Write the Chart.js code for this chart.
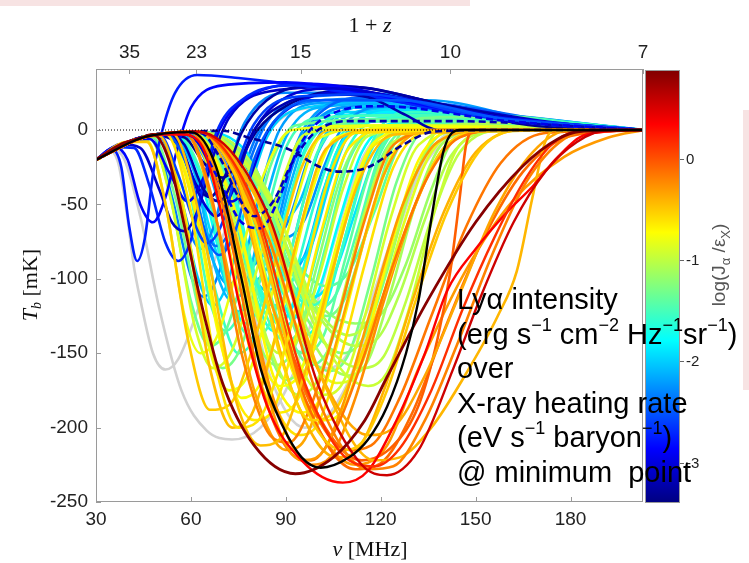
<!DOCTYPE html>
<html>
<head>
<meta charset="utf-8">
<script src="https://cdn.jsdelivr.net/npm/chart.js"></script>
<style>
  html, body { margin: 0; padding: 0; background: #fff; }
  #wrap { position: relative; width: 749px; height: 563px; overflow: hidden; background: #fff; }
  #c { position: absolute; left: 0; top: 0; }
  .pink { position: absolute; background: #f7e3e3; }
  #note {
    position: absolute; left: 457px; top: 282px;
    font-family: "Liberation Sans", Arial, sans-serif; font-size: 29px; line-height: 34.5px;
    color: #000; white-space: nowrap;
  }
  #note sup { font-size: 18px; line-height: 0; position: relative; top: -2px; }
</style>
</head>
<body>
<div id="wrap">
  <div class="pink" style="left:0;top:0;width:470px;height:6px"></div>
  <div class="pink" style="left:743px;top:110px;width:6px;height:280px"></div>
  <canvas id="c" width="749" height="563"></canvas>
  <div id="note">
    Lyα intensity<br>
    (erg s<sup>−1</sup> cm<sup>−2</sup> Hz<sup>−1</sup>sr<sup>−1</sup>)<br>
    over<br>
    X-ray heating rate<br>
    (eV s<sup>−1</sup> baryon<sup>−1</sup>)<br>
    @ minimum&nbsp; point
  </div>
</div>
<script>
const NU21 = 1420.4;
const xTicks = [30, 60, 90, 120, 150, 180];
const yTicks = [0, -50, -100, -150, -200, -250];
const zTicks = [35, 23, 15, 10, 7];
const cbTicks = [0, -1, -2, -3];
const cbMin = -3.4, cbMax = 0.88;

// light grey runs (no colour value)
const grayCurves = [
  [[30,-20],[34,-14],[37,-22],[40,-60],[42,-92],[44,-114],[48,-150],[52,-161],[56,-154],[62,-122],[70,-72],[78,-28],[85,0],[95,14],[120,17],[160,6],[203,0]],
  [[30,-20],[35,-12.8],[39,-20],[44,-58],[50,-120],[57,-175],[65,-202],[73,-208],[82,-200],[90,-175],[98,-130],[106,-70],[114,-20],[122,0],[150,4],[203,0]],
  [[30,-20],[45,-5],[60,-1.4],[72,-50],[85,-165],[96,-200],[102,-195],[110,-168],[118,-120],[126,-65],[134,-20],[145,0],[203,0]],
  [[30,-20],[45,-5],[62,-1.2],[76,-30],[90,-120],[102,-160],[108,-155],[116,-120],[124,-70],[132,-30],[142,-5],[160,0],[203,0]]
];

// each run: lv = log(J_alpha / eps_X) at the minimum
const blueCurves = [
  {lv:-3.35, pts:[[30,-20],[40,-8],[50,-3],[58,-5],[64,-22],[70,-32],[75,-22],[81,0],[90,16],[106,26],[125,22],[145,13],[168,3],[203,0]]},
  {lv:-3.1,  pts:[[30,-20],[38,-9.5],[44,-12],[50,-40],[54,-62],[58,-68],[62,-55],[67,-18],[72,8],[85,26],[110,29],[140,17],[175,5],[203,0]]},
  {lv:-3.0,  pts:[[30,-20],[42,-6.5],[55,-2],[62,-8],[68,-32],[73,-48],[78,-35],[84,-2],[92,16],[110,26],[140,15],[170,5],[203,0]]},
  {lv:-3.25, pts:[[30,-20],[40,-8],[48,-3.8],[56,-10],[62,-38],[66,-45],[71,-30],[76,-2],[84,20],[100,30],[116,28],[138,18],[170,5],[203,0]]},
  {lv:-2.9,  pts:[[30,-20],[40,-8],[47,-6],[53,-28],[59,-48],[64,-32],[69,0],[78,22],[98,31],[125,22],[160,8],[203,0]]},
  {lv:-2.75, pts:[[30,-20],[35,-13],[38,-25],[40.5,-65],[43,-88],[45.5,-72],[48,-30],[51,0],[55,25],[62,37],[75,35],[95,30],[120,21],[150,10],[180,3],[203,0]]},
  {lv:-2.7,  pts:[[30,-20],[36,-11.5],[42,-12],[47,-38],[52,-76],[56,-88],[60,-74],[64,-35],[68,-2],[76,20],[92,30],[112,25],[140,13],[170,4],[203,0]]},
  {lv:-2.85, pts:[[30,-20],[36,-11.5],[40,-20],[44,-50],[48,-62],[52,-45],[56,-10],[60,15],[70,30],[90,32],[115,25],[150,10],[203,0]]},
  {lv:-3.05, pts:[[30,-20],[42,-6.5],[52,-2.6],[57,-12],[63,-45],[68,-58],[73,-42],[79,-5],[86,16],[105,28],[130,20],[165,6],[203,0]]},
  {lv:-3.2,  pts:[[30,-20],[42,-6.5],[52,-2.6],[58,-10],[64,-40],[69,-48],[74,-30],[80,0],[90,18],[105,24],[116,22],[128,10],[138,0],[160,0],[203,0]]},
  {lv:-2.6,  pts:[[30,-20],[42,-6.5],[50,-3],[56,-30],[61,-62],[65,-76],[70,-62],[75,-22],[80,4],[92,22],[115,24],[150,10],[203,0]]},
  {lv:-2.5,  pts:[[30,-20],[42,-6.5],[52,-2.6],[59,-25],[65,-72],[69,-84],[74,-68],[80,-20],[86,5],[98,20],[125,20],[160,7],[203,0]]}
];

const dashedCurves = [
  {lv:-3.3,  pts:[[30,-20],[42,-6.5],[55,-2],[70,-0.5],[78,-5],[91,-13],[101,-25],[107,-28],[116,-25],[127,-10],[137,-1],[160,0],[203,0]]},
  {lv:-3.15, pts:[[30,-20],[42,-6.5],[55,-2],[63,-2],[69,-18],[75,-45],[80,-58],[86,-48],[92,-22],[99,-2],[110,6],[140,6],[203,0]]},
  {lv:-2.95, pts:[[30,-20],[42,-6.5],[52,-2.6],[60,-4],[68,-30],[76,-62],[82,-66],[88,-45],[94,-12],[102,8],[120,16],[160,6],[203,0]]}
];

const cyanCurves = [
  {lv:-2.35, pts:[[30,-20],[40,-8],[48,-5],[54,-45],[60,-98],[64,-112],[69,-95],[75,-40],[81,-3],[90,15],[115,21],[150,9],[203,0]]},
  {lv:-2.2,  pts:[[30,-20],[42,-6.5],[52,-2.6],[60,-30],[66,-82],[72,-104],[77,-86],[83,-32],[88,0],[100,18],[125,19],[160,7],[203,0]]},
  {lv:-2.1,  pts:[[30,-20],[42,-6.5],[55,-2],[64,-18],[72,-72],[79,-102],[85,-88],[91,-40],[97,-2],[110,15],[135,14],[170,4],[203,0]]},
  {lv:-2.3,  pts:[[30,-20],[45,-5],[58,-1.6],[68,-12],[78,-55],[85,-78],[91,-60],[97,-20],[103,4],[118,17],[145,12],[203,0]]},
  {lv:-1.95, pts:[[30,-20],[42,-6.5],[52,-2.6],[60,-22],[68,-82],[75,-122],[81,-106],[88,-50],[95,-5],[108,12],[135,12],[203,0]]},
  {lv:-2.15, pts:[[30,-20],[45,-5],[60,-1.4],[72,-15],[82,-65],[90,-98],[96,-84],[102,-40],[108,-6],[120,12],[150,10],[203,0]]},
  {lv:-1.8,  pts:[[30,-20],[45,-5],[60,-1.4],[74,-22],[86,-92],[94,-126],[100,-110],[107,-60],[114,-15],[125,5],[150,6],[203,0]]},
  {lv:-2.05, pts:[[30,-20],[45,-5],[60,-1.4],[72,-8],[82,-45],[88,-62],[94,-50],[100,-16],[106,4],[120,14],[150,10],[203,0]]},
  {lv:-1.9,  pts:[[30,-20],[45,-5],[62,-1.2],[78,-16],[90,-80],[99,-112],[105,-98],[112,-55],[119,-14],[130,5],[160,4],[203,0]]},
  {lv:-2.0,  pts:[[30,-20],[42,-6.5],[50,-4],[56,-40],[62,-98],[67,-118],[72,-100],[78,-45],[84,-5],[94,14],[118,18],[150,9],[203,0]]},
  {lv:-1.75, pts:[[30,-20],[42,-6.5],[54,-2.2],[62,-25],[70,-90],[77,-130],[83,-112],[90,-55],[97,-8],[110,10],[140,9],[203,0]]},
  {lv:-2.25, pts:[[30,-20],[44,-5.5],[56,-1.9],[66,-20],[74,-70],[80,-88],[86,-72],[92,-25],[98,2],[112,16],[140,13],[203,0]]},
  {lv:-1.7,  pts:[[30,-20],[45,-5],[58,-1.6],[68,-22],[78,-95],[86,-135],[92,-118],[99,-65],[106,-15],[118,6],[145,7],[203,0]]},
  {lv:-2.4,  pts:[[30,-20],[42,-6.5],[52,-2.6],[58,-20],[64,-65],[68,-78],[73,-64],[78,-25],[84,5],[96,22],[120,24],[155,9],[203,0]]},
  {lv:-2.2,  pts:[[30,-20],[45,-5],[56,-1.9],[64,-15],[72,-70],[78,-92],[84,-78],[90,-30],[96,2],[110,20],[135,20],[170,6],[203,0]]},
  {lv:-2.0,  pts:[[30,-20],[45,-5],[58,-1.6],[68,-20],[77,-85],[84,-108],[90,-92],[96,-45],[102,-5],[115,16],[140,16],[175,4],[203,0]]},
  {lv:-1.85, pts:[[30,-20],[45,-5],[60,-1.4],[70,-25],[80,-100],[88,-128],[94,-110],[101,-55],[108,-8],[120,12],[150,11],[203,0]]},
  {lv:-2.3,  pts:[[30,-20],[42,-6.5],[50,-3.5],[55,-30],[60,-70],[63,-80],[67,-66],[72,-25],[77,5],[90,25],[115,25],[150,10],[203,0]]},
  {lv:-1.95, pts:[[30,-20],[45,-5],[62,-1.2],[74,-20],[84,-70],[92,-90],[98,-78],[104,-35],[110,-2],[124,14],[155,10],[203,0]]},
  {lv:-2.1,  pts:[[30,-20],[42,-6.5],[54,-2.2],[61,-28],[68,-95],[73,-115],[78,-100],[84,-45],[90,-5],[100,15],[128,18],[165,6],[203,0]]},
  {lv:-1.75, pts:[[30,-20],[45,-5],[62,-1.2],[76,-30],[88,-110],[96,-138],[102,-122],[109,-70],[116,-18],[128,6],[160,7],[203,0]]},
  {lv:-2.45, pts:[[30,-20],[45,-5],[60,-1.4],[68,-8],[76,-40],[82,-55],[88,-42],[94,-10],[100,10],[115,22],[145,16],[180,4],[203,0]]},
  {lv:-2.25, pts:[[30,-20],[45,-5],[62,-1.2],[72,-10],[82,-50],[90,-72],[96,-60],[102,-25],[108,2],[122,16],[150,12],[203,0]]}
];

const greenCurves = [
  {lv:-1.55, pts:[[30,-20],[42,-6.5],[52,-2.6],[60,-30],[68,-110],[75,-150],[81,-135],[88,-75],[95,-20],[105,5],[135,8],[203,0]]},
  {lv:-1.45, pts:[[30,-20],[45,-5],[60,-1.4],[72,-35],[82,-115],[90,-142],[96,-128],[103,-75],[110,-20],[122,3],[150,5],[203,0]]},
  {lv:-1.35, pts:[[30,-20],[45,-5],[62,-1.2],[76,-30],[88,-120],[98,-158],[104,-145],[111,-90],[118,-30],[128,0],[160,3],[203,0]]},
  {lv:-1.6,  pts:[[30,-20],[45,-5],[60,-1.4],[70,-20],[79,-90],[86,-118],[92,-102],[99,-50],[106,-8],[118,7],[150,7],[203,0]]},
  {lv:-1.25, pts:[[30,-20],[45,-5],[62,-1.2],[80,-30],[95,-120],[108,-150],[115,-138],[122,-95],[130,-35],[140,-2],[165,2],[203,0]]},
  {lv:-1.3,  pts:[[30,-20],[40,-8],[48,-5],[55,-45],[63,-125],[70,-160],[76,-145],[83,-90],[90,-30],[98,0],[125,6],[203,0]]},
  {lv:-1.4,  pts:[[30,-20],[45,-5],[62,-1.2],[78,-20],[92,-85],[103,-105],[110,-95],[118,-55],[126,-10],[136,3],[165,3],[203,0]]},
  {lv:-1.15, pts:[[30,-20],[45,-5],[62,-1.2],[80,-25],[96,-105],[112,-130],[120,-124],[128,-90],[136,-40],[144,-5],[170,1],[203,0]]},
  {lv:-1.5,  pts:[[30,-20],[42,-6.5],[55,-2],[65,-40],[73,-118],[80,-140],[86,-125],[93,-70],[100,-15],[110,4],[140,7],[203,0]]},
  {lv:-1.2,  pts:[[30,-20],[45,-5],[60,-1.4],[72,-40],[82,-130],[90,-168],[97,-152],[104,-100],[112,-35],[122,0],[150,3],[203,0]]},
  {lv:-1.6,  pts:[[30,-20],[45,-5],[60,-1.4],[72,-30],[82,-110],[89,-132],[95,-118],[102,-65],[109,-15],[120,8],[145,10],[180,3],[203,0]]},
  {lv:-1.4,  pts:[[30,-20],[45,-5],[62,-1.2],[76,-35],[88,-130],[96,-150],[102,-138],[109,-85],[117,-25],[128,4],[155,6],[203,0]]},
  {lv:-1.5,  pts:[[30,-20],[42,-6.5],[52,-2.6],[59,-35],[66,-115],[71,-135],[76,-120],[83,-65],[90,-12],[100,8],[130,10],[170,3],[203,0]]},
  {lv:-1.3,  pts:[[30,-20],[45,-5],[62,-1.2],[80,-40],[94,-140],[104,-162],[110,-150],[117,-100],[125,-35],[134,0],[160,4],[203,0]]},
  {lv:-1.2,  pts:[[30,-20],[45,-5],[60,-1.4],[70,-35],[80,-135],[87,-158],[93,-145],[100,-90],[108,-28],[118,2],[150,4],[203,0]]},
  {lv:-1.45, pts:[[30,-20],[45,-5],[62,-1.2],[78,-25],[90,-95],[100,-120],[106,-110],[113,-65],[120,-15],[130,5],[160,5],[203,0]]},
  {lv:-1.1,  pts:[[30,-20],[45,-5],[62,-1.2],[82,-40],[98,-140],[110,-165],[116,-155],[123,-110],[131,-50],[140,-8],[155,1],[203,0]]},
  {lv:-1.35, pts:[[30,-20],[40,-8],[47,-6],[53,-40],[60,-115],[66,-145],[71,-135],[78,-85],[85,-25],[93,3],[120,7],[203,0]]},
  {lv:-1.3,  pts:[[30,-20],[45,-5],[62,-1.2],[80,-30],[94,-105],[103,-125],[109,-112],[116,-65],[123,-15],[133,8],[160,9],[190,2],[203,0]]},
  {lv:-1.05, pts:[[30,-20],[45,-5],[62,-1.2],[84,-40],[100,-120],[110,-138],[116,-128],[123,-85],[131,-30],[140,3],[170,5],[203,0]]},
  {lv:-1.55, pts:[[30,-20],[45,-5],[62,-1.2],[78,-30],[90,-100],[98,-118],[104,-105],[111,-55],[118,-5],[130,12],[165,8],[203,0]]}
];

const yellowCurves = [
  {lv:-0.9,  pts:[[30,-20],[40,-8],[47,-6],[54,-50],[61,-130],[67,-160],[73,-148],[80,-100],[88,-40],[96,-3],[120,3],[203,0]]},
  {lv:-0.75, pts:[[30,-20],[42,-6.5],[52,-2.6],[60,-40],[69,-140],[76,-180],[82,-170],[89,-120],[97,-50],[106,-5],[130,2],[203,0]]},
  {lv:-0.65, pts:[[30,-20],[45,-5],[58,-1.6],[68,-40],[79,-150],[88,-190],[94,-180],[101,-130],[109,-60],[118,-10],[140,1],[203,0]]},
  {lv:-1.0,  pts:[[30,-20],[45,-5],[60,-1.4],[72,-40],[84,-140],[94,-178],[100,-168],[107,-120],[115,-55],[124,-8],[150,2],[203,0]]},
  {lv:-0.7,  pts:[[30,-20],[45,-5],[62,-1.2],[76,-40],[90,-150],[102,-195],[108,-188],[115,-145],[123,-80],[132,-20],[145,0],[203,0]]},
  {lv:-0.85, pts:[[30,-20],[45,-5],[62,-1.2],[78,-30],[93,-130],[106,-170],[112,-165],[119,-125],[127,-65],[136,-15],[150,0],[203,0]]},
  {lv:-1.05, pts:[[30,-20],[45,-5],[62,-1.2],[80,-25],[96,-110],[112,-145],[119,-140],[126,-110],[134,-60],[142,-18],[155,-1],[203,0]]},
  {lv:-0.8,  pts:[[30,-20],[42,-6.5],[50,-3.5],[57,-45],[65,-140],[72,-175],[78,-165],[85,-115],[93,-50],[101,-5],[125,3],[203,0]]},
  {lv:-0.6,  pts:[[30,-20],[45,-5],[60,-1.4],[72,-60],[84,-170],[94,-205],[100,-198],[107,-155],[115,-90],[124,-25],[135,-1],[203,0]]},
  {lv:-0.95, pts:[[30,-20],[45,-5],[60,-1.4],[70,-30],[80,-120],[88,-150],[94,-140],[101,-95],[108,-40],[116,-4],[140,3],[203,0]]},
  {lv:-0.8,  pts:[[30,-20],[40,-8],[46,-7],[52,-50],[58,-125],[63,-150],[68,-140],[75,-90],[83,-30],[92,0],[120,3],[203,0]]},
  {lv:-0.7,  pts:[[30,-20],[45,-5],[60,-1.4],[74,-55],[86,-165],[95,-190],[101,-180],[108,-130],[116,-65],[125,-12],[140,1],[203,0]]},
  {lv:-0.9,  pts:[[30,-20],[45,-5],[62,-1.2],[78,-40],[92,-145],[102,-178],[108,-170],[115,-125],[123,-60],[132,-10],[150,2],[203,0]]},
  {lv:-0.65, pts:[[30,-20],[42,-6.5],[52,-2.6],[62,-60],[72,-165],[80,-195],[86,-188],[93,-140],[101,-70],[110,-12],[125,1],[203,0]]},
  {lv:-1.0,  pts:[[30,-20],[45,-5],[62,-1.2],[84,-45],[100,-135],[114,-160],[121,-152],[128,-115],[136,-60],[145,-15],[160,0],[203,0]]},
  {lv:-0.75, pts:[[30,-20],[45,-5],[60,-1.4],[70,-40],[80,-140],[88,-172],[94,-165],[101,-118],[109,-55],[118,-8],[135,2],[203,0]]},
  {lv:-0.95, pts:[[30,-20],[45,-5],[62,-1.2],[86,-50],[104,-150],[116,-172],[122,-163],[129,-120],[137,-55],[145,-10],[160,2],[203,0]]}
];

const orangeCurves = [
  {lv:-0.45, pts:[[30,-20],[42,-6.5],[50,-4],[58,-60],[66,-160],[73,-200],[79,-192],[86,-145],[94,-70],[103,-12],[120,0],[203,0]]},
  {lv:-0.35, pts:[[30,-20],[45,-5],[58,-1.6],[68,-60],[80,-175],[90,-215],[96,-208],[103,-165],[112,-95],[121,-30],[132,-2],[203,0]]},
  {lv:-0.25, pts:[[30,-20],[45,-5],[60,-1.4],[72,-55],[86,-180],[98,-225],[104,-220],[112,-180],[121,-115],[131,-50],[142,-8],[160,0],[203,0]]},
  {lv:-0.4,  pts:[[30,-20],[45,-5],[62,-1.2],[76,-50],[92,-175],[106,-220],[113,-214],[121,-175],[130,-115],[140,-55],[150,-15],[165,0],[203,0]]},
  {lv:-0.15, pts:[[30,-20],[45,-5],[62,-1.2],[78,-45],[95,-170],[110,-215],[117,-212],[126,-180],[136,-125],[147,-65],[158,-22],[172,-2],[203,0]]},
  {lv:-0.3,  pts:[[30,-20],[45,-5],[60,-1.4],[72,-20],[86,-120],[100,-200],[112,-225],[122,-212],[132,-160],[147,-94],[162,-47],[178,-18],[192,-5],[203,0]]},
  {lv:-0.5,  pts:[[30,-20],[40,-8],[46,-8],[52,-50],[59,-140],[66,-188],[72,-185],[79,-150],[87,-85],[95,-25],[104,0],[203,0]]},
  {lv:-0.2,  pts:[[30,-20],[45,-5],[58,-1.6],[66,-40],[76,-150],[85,-205],[91,-210],[98,-185],[106,-130],[115,-60],[124,-10],[140,0],[203,0]]},
  {lv:-0.1,  pts:[[30,-20],[45,-5],[62,-1.2],[80,-60],[96,-180],[112,-228],[120,-224],[130,-190],[140,-135],[152,-75],[165,-28],[180,-4],[203,0]]},
  {lv:-0.55, pts:[[30,-20],[45,-5],[62,-1.2],[76,-40],[88,-150],[98,-195],[104,-192],[112,-160],[121,-110],[130,-55],[140,-12],[155,0],[203,0]]},
  {lv:-0.05, pts:[[30,-20],[45,-5],[62,-1.2],[78,-40],[92,-150],[104,-205],[114,-222],[124,-212],[132,-185],[138,-140],[142,-95],[145,-45],[147,-10],[150,0],[203,0]]},
  {lv:-0.35, pts:[[30,-20],[45,-5],[62,-1.2],[82,-50],[100,-160],[116,-205],[124,-200],[134,-165],[145,-110],[156,-55],[168,-15],[180,0],[203,0]]},
  {lv:-0.42, pts:[[30,-20],[45,-5],[62,-1.2],[84,-60],[102,-170],[118,-222],[126,-220],[136,-200],[148,-160],[157,-125],[163,-95],[168,-45],[172,-8],[175,0],[203,0]]},
  {lv:-0.6,  pts:[[30,-20],[42,-6.5],[52,-2.6],[60,-55],[68,-160],[75,-200],[81,-196],[88,-160],[96,-95],[104,-30],[112,-2],[203,0]]},
  {lv:-0.15, pts:[[30,-20],[45,-5],[60,-1.4],[70,-50],[82,-170],[92,-218],[98,-222],[106,-200],[115,-150],[124,-90],[134,-35],[145,-5],[160,0],[203,0]]},
  {lv:-0.3,  pts:[[30,-20],[45,-5],[60,-1.4],[74,-70],[86,-190],[95,-222],[101,-218],[108,-185],[117,-120],[127,-50],[138,-8],[155,0],[203,0]]},
  {lv:-0.5,  pts:[[30,-20],[45,-5],[62,-1.2],[80,-60],[96,-185],[108,-215],[114,-210],[122,-175],[131,-115],[141,-55],[152,-12],[165,0],[203,0]]},
  {lv:-0.2,  pts:[[30,-20],[45,-5],[62,-1.2],[84,-70],[102,-190],[116,-228],[124,-226],[134,-195],[144,-145],[155,-85],[166,-35],[178,-6],[190,0],[203,0]]},
  {lv:-0.45, pts:[[30,-20],[42,-6.5],[54,-2.2],[64,-70],[74,-180],[82,-212],[88,-208],[95,-170],[104,-100],[113,-35],[124,-3],[203,0]]}
];

const redCurves = [
  {lv:0.35, pts:[[30,-20],[38,-9.5],[44,-5.5],[50,-3],[57,-3],[63,-9],[69,-50],[75,-114],[84,-185],[95,-222],[108,-237],[116,-229],[125,-195],[134,-150],[141,-108],[150,-80],[160,-55],[168,-38],[176,-18],[185,-3],[203,0]]},
  {lv:0.15, pts:[[30,-20],[45,-5],[62,-1.2],[80,-50],[96,-170],[110,-222],[118,-226],[126,-214],[136,-175],[146,-120],[156,-72],[166,-32],[175,-8],[185,0],[203,0]]},
  {lv:0.55, pts:[[30,-20],[45,-5],[62,-1.2],[85,-60],[100,-170],[114,-225],[122,-232],[132,-215],[143,-160],[152,-110],[162,-62],[172,-28],[182,-8],[192,0],[203,0]]}
];

const maroonCurves = [
  {lv:0.85, pts:[[30,-20],[38,-9.5],[44,-5.5],[48,-3],[53,-20],[58,-65],[63,-114],[70,-170],[80,-212],[93,-231],[105,-220],[115,-195],[122,-166],[135,-114],[150,-62],[165,-24],[176,-6],[183,-1],[203,0]]}
];

const blackCurve = [[30,-20],[45,-5],[60,-1.4],[68,-25],[76,-100],[82,-160],[89,-199],[95,-220],[101,-227],[110,-220],[116,-208],[122,-186],[128,-150],[132,-114],[136,-60],[140,-13],[145,0],[203,0]];

const zeroLine = [[30,0],[NU21 / 7,0]];

function jet(v) {
  const t = (v - cbMin) / (cbMax - cbMin);
  const f = x => Math.round(255 * Math.max(0, Math.min(1, x)));
  return 'rgb(' + f(1.5 - Math.abs(4 * t - 3)) + ',' + f(1.5 - Math.abs(4 * t - 2)) + ',' + f(1.5 - Math.abs(4 * t - 1)) + ')';
}

// draw order: earlier = underneath
const runs = [];
grayCurves.forEach(p => runs.push({pts: p, color: '#d2d2d2', w: 2.6}));
cyanCurves.forEach(c => runs.push({pts: c.pts, color: jet(c.lv), w: 2.6}));
greenCurves.forEach(c => runs.push({pts: c.pts, color: jet(c.lv), w: 2.6}));
yellowCurves.forEach(c => runs.push({pts: c.pts, color: jet(c.lv), w: 2.6}));
blueCurves.forEach(c => runs.push({pts: c.pts, color: jet(c.lv), w: 2.6}));
orangeCurves.forEach(c => runs.push({pts: c.pts, color: jet(c.lv), w: 2.6}));
dashedCurves.forEach(c => runs.push({pts: c.pts, color: jet(c.lv), w: 2.6, dash: [7, 4]}));
redCurves.forEach(c => runs.push({pts: c.pts, color: jet(c.lv), w: 2.4}));
maroonCurves.forEach(c => runs.push({pts: c.pts, color: jet(c.lv), w: 2.8}));
runs.push({pts: blackCurve, color: '#000', w: 2.4});
runs.push({pts: zeroLine, color: '#000', w: 1, dash: [1, 2]});

const datasets = runs.map((r, i) => ({
  data: r.pts.map(p => ({x: p[0], y: p[1]})),
  borderColor: r.color,
  borderWidth: r.w,
  borderDash: r.dash || [],
  pointRadius: 0,
  fill: false,
  cubicInterpolationMode: 'monotone',
  order: runs.length - i
}));

const tickFont = {family: '"Liberation Sans", Arial, sans-serif', size: 19};

// frame, inward ticks, axis titles and the colour bar
const decor = {
  id: 'decor',
  afterDraw(chart) {
    const {ctx, chartArea: a, scales} = chart;
    ctx.save();
    ctx.strokeStyle = '#9a9a9a';
    ctx.lineWidth = 1;
    ctx.strokeRect(a.left + 0.5, a.top + 0.5, a.right - a.left - 1, a.bottom - a.top - 1);
    ctx.beginPath();
    xTicks.forEach(v => { const x = Math.round(scales.x.getPixelForValue(v)) + 0.5; ctx.moveTo(x, a.bottom); ctx.lineTo(x, a.bottom - 5); });
    zTicks.forEach(z => { const x = Math.round(scales.x.getPixelForValue(NU21 / z)) + 0.5; ctx.moveTo(x, a.top); ctx.lineTo(x, a.top + 5); });
    yTicks.forEach(v => { const y = Math.round(scales.y.getPixelForValue(v)) + 0.5; ctx.moveTo(a.left, y); ctx.lineTo(a.left + 5, y); });
    ctx.stroke();

    ctx.fillStyle = '#111';
    ctx.textBaseline = 'alphabetic';
    // top title 1 + z
    ctx.font = '22px "Liberation Serif", serif';
    let w1 = ctx.measureText('1 + ').width;
    ctx.font = 'italic 22px "Liberation Serif", serif';
    let w2 = ctx.measureText('z').width;
    let x0 = 370 - (w1 + w2) / 2;
    ctx.font = '22px "Liberation Serif", serif';
    ctx.fillText('1 + ', x0, 32);
    ctx.font = 'italic 22px "Liberation Serif", serif';
    ctx.fillText('z', x0 + w1, 32);

    // bottom title nu [MHz]
    ctx.font = 'italic 22px "Liberation Serif", serif';
    w1 = ctx.measureText('ν ').width;
    ctx.font = '22px "Liberation Serif", serif';
    w2 = ctx.measureText('[MHz]').width;
    x0 = 370 - (w1 + w2) / 2;
    ctx.font = 'italic 22px "Liberation Serif", serif';
    ctx.fillText('ν ', x0, 556);
    ctx.font = '22px "Liberation Serif", serif';
    ctx.fillText('[MHz]', x0 + w1, 556);

    // left title T_b [mK]
    ctx.save();
    ctx.translate(37, 285);
    ctx.rotate(-Math.PI / 2);
    ctx.font = 'italic 22px "Liberation Serif", serif';
    const tw = ctx.measureText('T').width;
    ctx.font = 'italic 14px "Liberation Serif", serif';
    const bw = ctx.measureText('b').width;
    ctx.font = '22px "Liberation Serif", serif';
    const mw = ctx.measureText(' [mK]').width;
    let sx = -(tw + bw + mw) / 2;
    ctx.font = 'italic 22px "Liberation Serif", serif';
    ctx.fillText('T', sx, 0);
    ctx.font = 'italic 14px "Liberation Serif", serif';
    ctx.fillText('b', sx + tw, 4);
    ctx.font = '22px "Liberation Serif", serif';
    ctx.fillText(' [mK]', sx + tw + bw, 0);
    ctx.restore();

    // colour bar
    const cbL = 645, cbR = 680, cbT = 70, cbB = 503;
    const g = ctx.createLinearGradient(0, cbB, 0, cbT);
    for (let i = 0; i <= 40; i++) {
      const t = i / 40;
      g.addColorStop(t, jet(cbMin + t * (cbMax - cbMin)));
    }
    ctx.fillStyle = g;
    ctx.fillRect(cbL, cbT, cbR - cbL, cbB - cbT);
    ctx.strokeStyle = '#9a9a9a';
    ctx.strokeRect(cbL + 0.5, cbT + 0.5, cbR - cbL - 1, cbB - cbT - 1);
    const cy = v => cbB - (v - cbMin) / (cbMax - cbMin) * (cbB - cbT);
    ctx.fillStyle = '#222';
    ctx.font = '15px "Liberation Sans", Arial, sans-serif';
    ctx.textBaseline = 'middle';
    ctx.beginPath();
    cbTicks.forEach(v => {
      const y = Math.round(cy(v)) + 0.5;
      ctx.moveTo(cbR, y); ctx.lineTo(cbR + 4, y);
      ctx.fillText(String(v), 686, y);
    });
    ctx.strokeStyle = '#666';
    ctx.stroke();

    // colour bar label log(J_alpha / eps_X)
    ctx.save();
    ctx.translate(725, 265);
    ctx.rotate(-Math.PI / 2);
    ctx.fillStyle = '#555';
    ctx.textBaseline = 'alphabetic';
    const parts = [['log(J', 19, 0], ['α', 13, 5], [' /ε', 19, 0], ['X', 13, 5], [')', 19, 0]];
    let total = 0;
    parts.forEach(p => { ctx.font = p[1] + 'px "Liberation Sans", Arial, sans-serif'; total += ctx.measureText(p[0]).width; });
    let px = -total / 2;
    parts.forEach(p => {
      ctx.font = p[1] + 'px "Liberation Sans", Arial, sans-serif';
      ctx.fillText(p[0], px, p[2]);
      px += ctx.measureText(p[0]).width;
    });
    ctx.restore();
    ctx.restore();
  }
};

new Chart(document.getElementById('c').getContext('2d'), {
  type: 'line',
  data: {datasets},
  options: {
    responsive: false,
    animation: false,
    devicePixelRatio: 1,
    layout: {padding: {left: 0, right: 106, top: 0, bottom: 0}},
    plugins: {legend: {display: false}, tooltip: {enabled: false}},
    scales: {
      x: {
        type: 'linear', position: 'bottom', min: 30, max: NU21 / 7,
        afterBuildTicks: s => { s.ticks = xTicks.map(v => ({value: v})); },
        afterFit: s => { s.height = 61; },
        ticks: {font: tickFont, color: '#222', padding: 6, maxRotation: 0, autoSkip: false},
        grid: {display: false, drawTicks: false},
        border: {display: false}
      },
      x2: {
        type: 'linear', position: 'top', min: 30, max: NU21 / 7,
        afterBuildTicks: s => { s.ticks = zTicks.map(z => ({value: NU21 / z})); },
        afterFit: s => { s.height = 69; },
        ticks: {font: tickFont, color: '#222', padding: 5, maxRotation: 0, autoSkip: false,
                callback: v => String(Math.round(NU21 / v))},
        grid: {display: false, drawTicks: false},
        border: {display: false}
      },
      y: {
        type: 'linear', min: -250, max: 41,
        afterBuildTicks: s => { s.ticks = yTicks.map(v => ({value: v})); },
        afterFit: s => { s.width = 96; },
        ticks: {font: tickFont, color: '#222', padding: 8, autoSkip: false},
        grid: {display: false, drawTicks: false},
        border: {display: false}
      }
    }
  },
  plugins: [decor]
});
</script>
</body>
</html>
